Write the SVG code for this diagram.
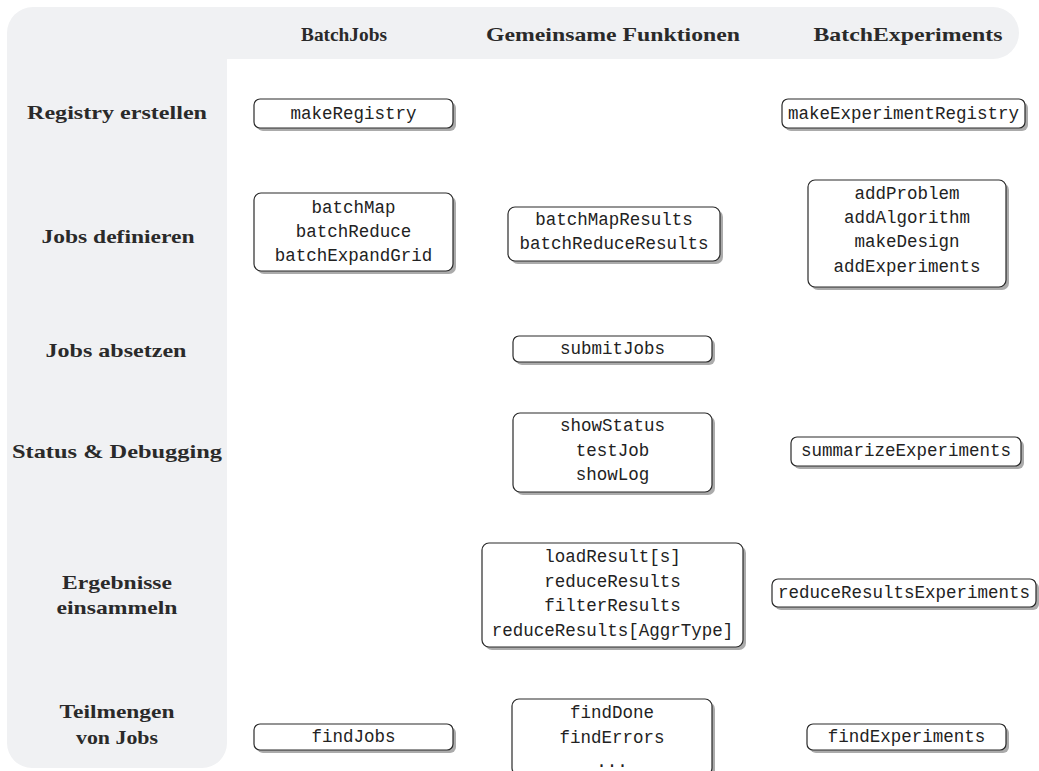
<svg xmlns="http://www.w3.org/2000/svg" width="1039" height="771" viewBox="0 0 1039 771">
<style>
.bg{fill:#f0f1f3}
.hd{font-family:"Liberation Serif",serif;font-weight:bold;font-size:19px;fill:#2a2a2a;text-anchor:middle}
.sh{fill:#ababab}
.bx{fill:#ffffff;stroke:#2a2a2a;stroke-width:1.2}
.tt{font-family:"Liberation Mono",monospace;font-size:17.5px;fill:#222;text-anchor:middle}
</style>
<rect width="1039" height="771" fill="#ffffff"/>
<path class="bg" d="M7,33 A26,26 0 0 1 33,7 H993 A26,26 0 0 1 993,59 H227 V743 A25,25 0 0 1 202,768 H32 A25,25 0 0 1 7,743 Z"/>
<g id="headers">
<text class="hd" x="344" y="41" textLength="86" lengthAdjust="spacingAndGlyphs">BatchJobs</text>
<text class="hd" x="613" y="41" textLength="254" lengthAdjust="spacingAndGlyphs">Gemeinsame Funktionen</text>
<text class="hd" x="908" y="41" textLength="189" lengthAdjust="spacingAndGlyphs">BatchExperiments</text>
</g>
<g id="rows">
<text class="hd" x="117" y="119" textLength="180" lengthAdjust="spacingAndGlyphs">Registry erstellen</text>
<text class="hd" x="118" y="243" textLength="153" lengthAdjust="spacingAndGlyphs">Jobs definieren</text>
<text class="hd" x="116" y="357" textLength="141" lengthAdjust="spacingAndGlyphs">Jobs absetzen</text>
<text class="hd" x="117" y="458" textLength="210" lengthAdjust="spacingAndGlyphs">Status &amp; Debugging</text>
<text class="hd" x="117" y="589" textLength="110" lengthAdjust="spacingAndGlyphs">Ergebnisse</text>
<text class="hd" x="117" y="614" textLength="121" lengthAdjust="spacingAndGlyphs">einsammeln</text>
<text class="hd" x="117" y="718" textLength="115" lengthAdjust="spacingAndGlyphs">Teilmengen</text>
<text class="hd" x="117" y="744" textLength="82" lengthAdjust="spacingAndGlyphs">von Jobs</text>
</g>
<g id="connectors"/>
<g id="n-makeRegistry">
<rect class="sh" x="257" y="102" width="199" height="29" rx="6"/>
<rect class="bx" x="254" y="99" width="199" height="29" rx="6"/>
<text class="tt" x="353.5" y="119">makeRegistry</text>
</g>
<g id="n-makeExperimentRegistry">
<rect class="sh" x="785" y="102" width="243" height="29" rx="6"/>
<rect class="bx" x="782" y="99" width="243" height="29" rx="6"/>
<text class="tt" x="903.5" y="119">makeExperimentRegistry</text>
</g>
<g id="n-batchMap">
<rect class="sh" x="257" y="196" width="199" height="78" rx="7"/>
<rect class="bx" x="254" y="193" width="199" height="78" rx="7"/>
<text class="tt" x="353.5" y="213">batchMap</text>
<text class="tt" x="353.5" y="237">batchReduce</text>
<text class="tt" x="353.5" y="261">batchExpandGrid</text>
</g>
<g id="n-batchMapResults">
<rect class="sh" x="511" y="210" width="212" height="54" rx="7"/>
<rect class="bx" x="508" y="207" width="212" height="54" rx="7"/>
<text class="tt" x="614" y="225">batchMapResults</text>
<text class="tt" x="614" y="249">batchReduceResults</text>
</g>
<g id="n-addProblem">
<rect class="sh" x="811" y="183" width="198" height="107" rx="7"/>
<rect class="bx" x="808" y="180" width="198" height="107" rx="7"/>
<text class="tt" x="907" y="199">addProblem</text>
<text class="tt" x="907" y="223">addAlgorithm</text>
<text class="tt" x="907" y="247">makeDesign</text>
<text class="tt" x="907" y="272">addExperiments</text>
</g>
<g id="n-submitJobs">
<rect class="sh" x="516" y="339" width="199" height="26" rx="6"/>
<rect class="bx" x="513" y="336" width="199" height="26" rx="6"/>
<text class="tt" x="612.5" y="354">submitJobs</text>
</g>
<g id="n-showStatus">
<rect class="sh" x="516" y="416" width="199" height="79" rx="7"/>
<rect class="bx" x="513" y="413" width="199" height="79" rx="7"/>
<text class="tt" x="612.5" y="431">showStatus</text>
<text class="tt" x="612.5" y="456">testJob</text>
<text class="tt" x="612.5" y="480">showLog</text>
</g>
<g id="n-summarizeExperiments">
<rect class="sh" x="794" y="440" width="230" height="29" rx="6"/>
<rect class="bx" x="791" y="437" width="230" height="29" rx="6"/>
<text class="tt" x="906" y="456">summarizeExperiments</text>
</g>
<g id="n-loadResult">
<rect class="sh" x="485" y="546" width="261" height="104" rx="7"/>
<rect class="bx" x="482" y="543" width="261" height="104" rx="7"/>
<text class="tt" x="612.5" y="562">loadResult[s]</text>
<text class="tt" x="612.5" y="587">reduceResults</text>
<text class="tt" x="612.5" y="611">filterResults</text>
<text class="tt" x="612.5" y="636">reduceResults[AggrType]</text>
</g>
<g id="n-reduceResultsExperiments">
<rect class="sh" x="775" y="582" width="264" height="28" rx="6"/>
<rect class="bx" x="772" y="579" width="264" height="28" rx="6"/>
<text class="tt" x="904" y="598">reduceResultsExperiments</text>
</g>
<g id="n-findJobs">
<rect class="sh" x="257" y="727" width="199" height="26" rx="6"/>
<rect class="bx" x="254" y="724" width="199" height="26" rx="6"/>
<text class="tt" x="353.5" y="742">findJobs</text>
</g>
<g id="n-findDone">
<rect class="sh" x="515" y="702" width="200" height="76" rx="7"/>
<rect class="bx" x="512" y="699" width="200" height="76" rx="7"/>
<text class="tt" x="612" y="718">findDone</text>
<text class="tt" x="612" y="743">findErrors</text>
<text class="tt" x="612" y="767">...</text>
</g>
<g id="n-findExperiments">
<rect class="sh" x="810" y="727" width="199" height="26" rx="6"/>
<rect class="bx" x="807" y="724" width="199" height="26" rx="6"/>
<text class="tt" x="906.5" y="742">findExperiments</text>
</g>
</svg>
